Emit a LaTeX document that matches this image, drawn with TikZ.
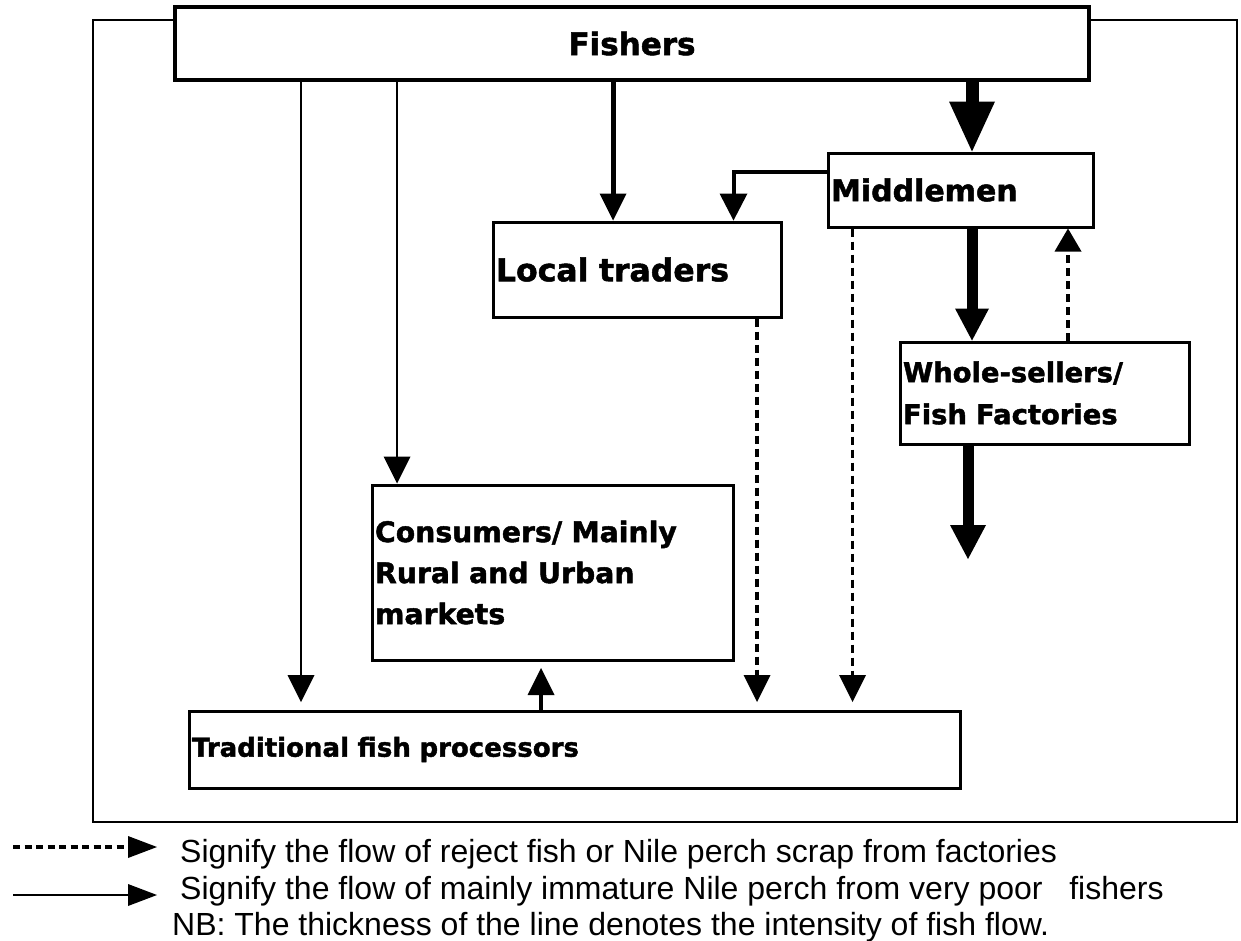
\documentclass[tikz,border=0pt]{standalone}
\usepackage{fontspec}
\setmainfont{Liberation Sans}
\newfontfamily\labfont{DejaVu Sans Bold}[FakeBold=1.6]
\usetikzlibrary{arrows.meta}
\begin{document}
\begin{tikzpicture}[x=1pt,y=-1pt,
  box/.style={draw, line width=3pt, fill=white, inner xsep=3pt, inner ysep=0pt, align=left},
  thinarr/.style={line width=2pt, -{Triangle[length=27pt,width=27pt,line width=0pt]}},
  medarr/.style={line width=5pt, -{Triangle[length=27pt,width=27pt,line width=0pt]}},
  elbowarr/.style={line width=4pt, line join=miter, -{Triangle[length=27pt,width=28pt,line width=0pt]}},
  hugearr/.style={line width=13pt, -{Triangle[length=50pt,width=46pt,line width=0pt]}},
  bigarr/.style={line width=11pt, -{Triangle[length=32pt,width=34pt,line width=0pt]}},
  outarr/.style={line width=11pt, -{Triangle[length=34pt,width=36pt,line width=0pt]}},
  uparr/.style={line width=4pt, -{Triangle[length=27pt,width=27pt,line width=0pt]}},
  dasharr/.style={line width=3.5pt, dash pattern=on 8pt off 5pt, -{Triangle[length=27pt,width=27pt,line width=0pt]}},
  dashuparr/.style={line width=3.5pt, dash pattern=on 8pt off 5pt, -{Triangle[length=23pt,width=27pt,line width=0pt]}},
  legtext/.style={anchor=base west, inner sep=0pt, font=\fontsize{32}{37}\selectfont}]
\useasboundingbox (0,0) rectangle (1241,940);
% outer frame
\draw[line width=2pt] (93,20) rectangle (1237,822);
% boxes
\node[box, align=center, minimum width=914pt, minimum height=73pt, line width=3.5pt,
      font=\labfont\fontsize{31}{37}\selectfont] (fishers) at (632,43.5) {Fishers};
\node[box, text width=259pt, minimum height=74pt,
      font=\labfont\fontsize{30}{36}\selectfont] (mid) at (960.5,190) {Middlemen};
\node[box, text width=282pt, minimum height=95pt,
      font=\labfont\fontsize{31.5}{36}\selectfont] (local) at (637,269.5) {Local traders};
\node[box, text width=355.5pt, minimum height=175pt,
      font=\labfont\fontsize{28.3}{41}\selectfont] (cons) at (552.75,572.5) {Consumers/ Mainly\\Rural and Urban\\markets};
\node[box, text width=283pt, minimum height=102pt,
      font=\labfont\fontsize{27.4}{42}\selectfont] (whole) at (1044.5,393) {Whole-sellers/\\Fish Factories};
\node[box, text width=765pt, minimum height=77pt,
      font=\labfont\fontsize{26}{32}\selectfont] (trad) at (574.5,749.5) {Traditional fish processors};
% helper coordinates
\coordinate (t301) at (301,702);
\coordinate (x397) at (397,0);
\coordinate (x613) at (613,0);
\coordinate (x972) at (972,0);
\coordinate (y172) at (0,172);
\coordinate (x733) at (733.5,0);
\coordinate (t852) at (852.5,702);
\coordinate (t757) at (757,702);
\coordinate (x1068) at (1068,0);
\coordinate (tout) at (968,559);
\coordinate (t541) at (541,668);
% connectors
\draw[thinarr] (fishers.south -| t301) -- (t301);
\draw[thinarr] (fishers.south -| x397) -- (cons.north -| x397);
\draw[medarr] (fishers.south -| x613) -- (local.north -| x613);
\draw[hugearr] (fishers.south -| x972) -- (mid.north -| x972);
\draw[elbowarr] (mid.west |- y172) -| (local.north -| x733);
\draw[dasharr] (mid.south -| t852) -- (t852);
\draw[dasharr] (local.south -| t757) -- (t757);
\draw[bigarr] (mid.south -| x972) -- (whole.north -| x972);
\draw[dashuparr] (whole.north -| x1068) -- (mid.south -| x1068);
\draw[outarr] (whole.south -| tout) -- (tout);
\draw[uparr] (trad.north -| t541) -- (t541);
% legend
\coordinate (l1a) at (13,847);
\coordinate (l1b) at (157,847);
\coordinate (l2a) at (13,895);
\coordinate (l2b) at (157,895);
\draw[line width=3.5pt, dash pattern=on 7pt off 4.5pt, -{Triangle[length=29pt,width=22pt,line width=0pt]}] (l1a) -- (l1b);
\draw[line width=2pt, -{Triangle[length=29pt,width=22pt,line width=0pt]}] (l2a) -- (l2b);
\node[legtext] (leg1) at (180,862) {Signify the flow of reject fish or Nile perch scrap from factories};
\node[legtext] (leg2) at (180,899) {Signify the flow of mainly immature Nile perch from very poor\ \ \ fishers};
\node[legtext] (leg3) at (172,935) {NB: The thickness of the line denotes the intensity of fish flow.};
\end{tikzpicture}
\end{document}
